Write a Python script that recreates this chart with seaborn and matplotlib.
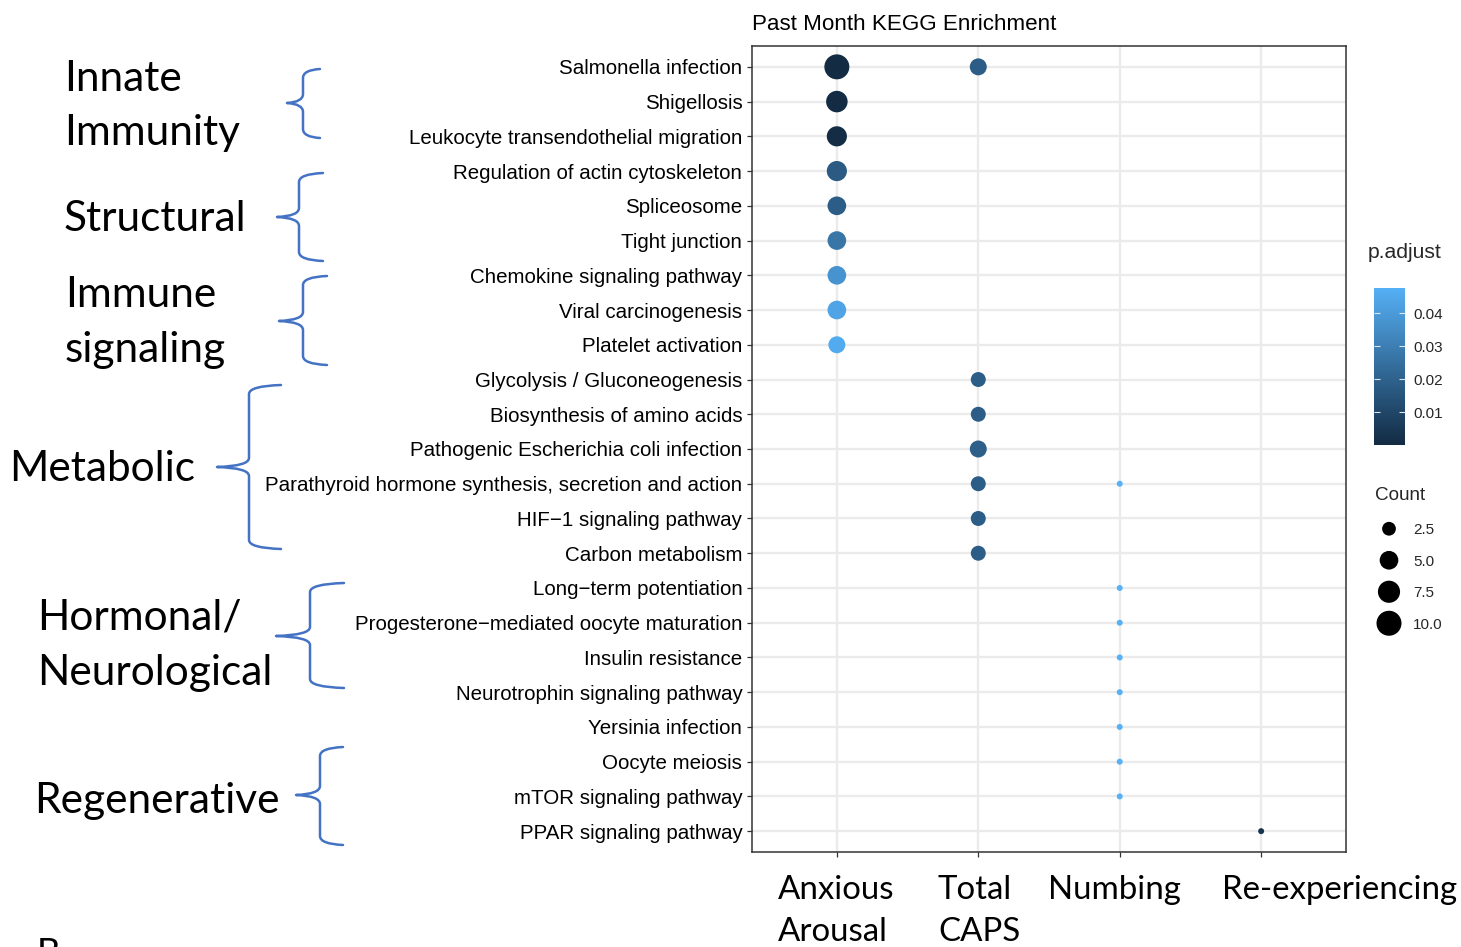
import numpy as np
import pandas as pd
import matplotlib
matplotlib.use("Agg")
import matplotlib.pyplot as plt
from matplotlib.colors import LinearSegmentedColormap
from matplotlib.path import Path
from matplotlib.patches import PathPatch
import seaborn as sns

# ---------------- data ----------------
terms = [
    "Salmonella infection", "Shigellosis", "Leukocyte transendothelial migration",
    "Regulation of actin cytoskeleton", "Spliceosome", "Tight junction",
    "Chemokine signaling pathway", "Viral carcinogenesis", "Platelet activation",
    "Glycolysis / Gluconeogenesis", "Biosynthesis of amino acids",
    "Pathogenic Escherichia coli infection",
    "Parathyroid hormone synthesis, secretion and action",
    "HIF\u22121 signaling pathway", "Carbon metabolism", "Long\u2212term potentiation",
    "Progesterone\u2212mediated oocyte maturation", "Insulin resistance",
    "Neurotrophin signaling pathway", "Yersinia infection", "Oocyte meiosis",
    "mTOR signaling pathway", "PPAR signaling pathway",
]
groups = ["Anxious Arousal", "Total CAPS", "Numbing", "Re-experiencing"]

row_term = [0, 0, 1, 2, 3, 4, 5, 6, 7, 8, 9, 10, 11, 12, 12, 13, 14,
            15, 16, 17, 18, 19, 20, 21, 22]
row_group = [0, 1, 0, 0, 0, 0, 0, 0, 0, 0, 1, 1, 1, 1, 2, 1, 1,
             2, 2, 2, 2, 2, 2, 2, 3]
row_count = [10, 4, 7, 6, 6, 5, 5, 5, 5, 4, 3, 3, 4, 3, 1, 3, 3,
             1, 1, 1, 1, 1, 1, 1, 1]
row_padj = [0.0001, 0.0180, 0.0004, 0.0008, 0.0170, 0.0180, 0.0265, 0.0370,
            0.0430, 0.0455, 0.0180, 0.0180, 0.0185, 0.0180, 0.0476, 0.0180,
            0.0180, 0.0476, 0.0476, 0.0476, 0.0476, 0.0476, 0.0476, 0.0476,
            0.0030]

cbar_ticks = [0.01, 0.02, 0.03, 0.04]
size_legend = [2.5, 5.0, 7.5, 10.0]

categories_left = [
    ["Innate", "Immunity"], ["Structural"], ["Immune", "signaling"],
    ["Metabolic"], ["Hormonal/", "Neurological"], ["Regenerative"],
]

df = pd.DataFrame({
    "term": [terms[i] for i in row_term],
    "group": [groups[i] for i in row_group],
    "Count": row_count,
    "p.adjust": row_padj,
})

# ---------------- style ----------------
W, H = 1461, 947
DPI = 100
PX = 72.0 / DPI  # points per pixel

sns.set_theme(style="white")
plt.rcParams["font.family"] = ["Liberation Sans", "DejaVu Sans"]

cmap = LinearSegmentedColormap.from_list("gg", ["#132B43", "#56B1F7"])
vmin, vmax = min(row_padj), max(row_padj)

cmin, cmax = min(row_count), max(row_count)
dmin_px, dmax_px = 6.0, 25.0


def marker_area(c):
    t = (c - cmin) / (cmax - cmin)
    d = dmin_px + (dmax_px - dmin_px) * np.sqrt(max(t, 0.0))
    return (d * PX) ** 2


size_map = {c: marker_area(c) for c in sorted(set(row_count))}

fig = plt.figure(figsize=(W / DPI, H / DPI), dpi=DPI)


def fx(x):
    return x / W


def fy(y):
    return 1 - y / H


# main axes
ax = fig.add_axes([fx(752), fy(852), (1346 - 752) / W, (852 - 46) / H])
ax.set_facecolor("white")
sns.scatterplot(data=df, x="group", y="term", hue="p.adjust", size="Count",
                sizes=size_map, palette=cmap, hue_norm=(vmin, vmax),
                legend=False, linewidth=0, ax=ax, zorder=3)
ax.set_xlim(-0.6, len(groups) - 0.4)
ax.set_ylim(len(terms) - 0.4, -0.6)
ax.grid(True, color="#EBEBEB", linewidth=1.7)
ax.set_axisbelow(True)
for s in ax.spines.values():
    s.set_color("#333333")
    s.set_linewidth(1.1)
ax.tick_params(axis="both", length=4 * PX * 1.2, width=0.9, color="#333333",
               labelsize=14.8, pad=3.5, labelcolor="black")
ax.tick_params(axis="x", labelbottom=False)
ax.tick_params(axis="y", left=True)
ax.tick_params(axis="x", bottom=True)
ax.set_xlabel("")
ax.set_ylabel("")

fig.text(fx(752), fy(24), "Past Month KEGG Enrichment", ha="left", va="center",
         fontsize=16.1, color="black")

# colour bar
cax = fig.add_axes([fx(1374), fy(445), 31 / W, 157 / H])
grad = np.linspace(vmin, vmax, 256).reshape(-1, 1)
cax.imshow(grad, aspect="auto", cmap=cmap, origin="lower",
           extent=[0, 1, vmin, vmax])
cax.set_xticks([])
cax.set_yticks(cbar_ticks)
cax.set_yticklabels([f"{v:.2f}" for v in cbar_ticks])
cax.tick_params(axis="y", direction="in", color="#DDE6EE", length=4.5,
                width=0.8, left=True, right=True, labelleft=False,
                labelright=True, labelsize=11, pad=6)
for s in cax.spines.values():
    s.set_visible(False)
fig.text(fx(1368), fy(252), "p.adjust", ha="left", va="center", fontsize=15.2)

# size legend
lax = fig.add_axes([fx(1374), fy(639), 30 / W, 126 / H])
lax.scatter(np.zeros(len(size_legend)), np.arange(len(size_legend)),
            s=[marker_area(v) for v in size_legend], color="black", linewidth=0)
lax.set_xlim(-1, 1)
lax.set_ylim(len(size_legend) - 0.5, -0.5)
lax.set_xticks([])
lax.set_yticks(np.arange(len(size_legend)))
lax.set_yticklabels([f"{v:.1f}" for v in size_legend])
lax.yaxis.tick_right()
lax.tick_params(axis="y", length=0, labelsize=11, pad=6.5)
lax.set_facecolor("none")
for s in lax.spines.values():
    s.set_visible(False)
fig.text(fx(1375), fy(495), "Count", ha="left", va="center", fontsize=13.6)

# overlay: category labels, braces, group labels
ov = fig.add_axes([0, 0, 1, 1], zorder=-1)
ov.set_xlim(0, W)
ov.set_ylim(H, 0)
ov.axis("off")
ov.patch.set_alpha(0)

big_font = ["Lato", "DejaVu Sans"]
big_size = 30.5

label_lines = [
    (64, [91, 145]), (64, [231]), (65, [307, 362]),
    (9, [481]), (37, [629, 685]), (34, [813]),
]
for lines, (lx, bases) in zip(categories_left, label_lines):
    for txt, b in zip(lines, bases):
        ov.text(lx, b, txt, ha="left", va="baseline", fontsize=big_size,
                family=big_font, color="black")

# braces: (end x, spine x, tip x, top y, tip y, bottom y)
braces = [
    (320, 303, 287, 69, 103, 138),
    (323, 299, 277, 173, 217, 261),
    (327, 303, 279, 276, 321, 365),
    (281, 249, 217, 385, 467, 549),
    (344, 310, 276, 583, 636, 688),
    (343, 320, 296, 747, 795, 845),
]
for xe, xs, xt, yt, ym, yb in braces:
    r = 9
    verts = [(xe, yt), (xs, yt + 1), (xs, yt + r), (xs, ym - r),
             (xs, ym - 1), (xt, ym), (xs, ym + 1), (xs, ym + r),
             (xs, yb - r), (xs, yb - 1), (xe, yb)]
    codes = [Path.MOVETO, Path.CURVE3, Path.CURVE3, Path.LINETO,
             Path.CURVE3, Path.CURVE3, Path.CURVE3, Path.CURVE3,
             Path.LINETO, Path.CURVE3, Path.CURVE3]
    ov.add_patch(PathPatch(Path(verts, codes), facecolor="none",
                           edgecolor="#4472C4", linewidth=1.8,
                           capstyle="round", joinstyle="round"))

bottom_labels = [
    (778, ["Anxious", "Arousal"]), (938, ["Total", "CAPS"]),
    (1048, ["Numbing"]), (1222, ["Re-experiencing"]),
]
for bx, lines in bottom_labels:
    for i, txt in enumerate(lines):
        ov.text(bx, 899 + 42 * i, txt, ha="left", va="baseline",
                fontsize=23.8, family=big_font, color="black")

ov.text(37, 937, "B", ha="left", va="top", fontsize=26, family=big_font,
        color="black")

fig.savefig("out.png", dpi=DPI, facecolor="white")
